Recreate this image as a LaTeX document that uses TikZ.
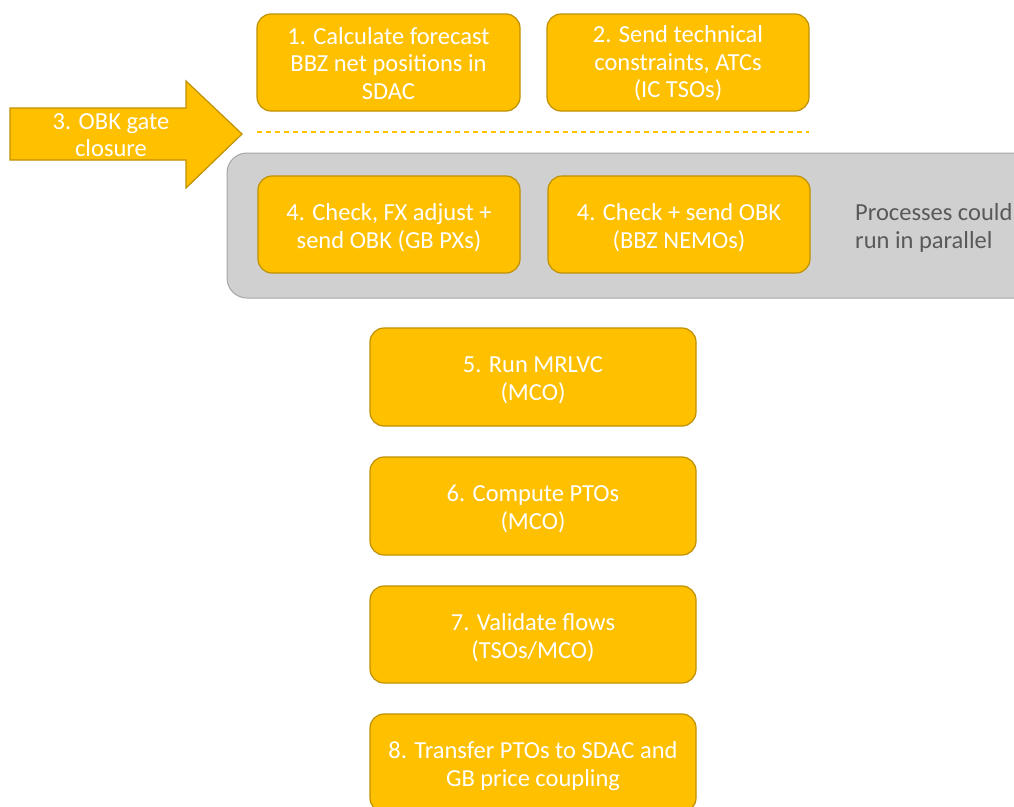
\documentclass[tikz,border=0pt]{standalone}
\usepackage{fontspec}
\setmainfont{Carlito}
\definecolor{gold}{HTML}{FFC000}
\definecolor{golddark}{HTML}{BF9000}
\definecolor{panelgrey}{HTML}{D0D0D0}
\definecolor{panelline}{HTML}{A6A6A6}
\definecolor{notegrey}{HTML}{595959}
\tikzset{
  stepbox/.style={draw=golddark, line width=1.2pt, fill=gold, rounded corners=14pt,
    inner sep=0pt},
  steptext/.style={text=white, align=center, inner sep=0pt, yshift=-3pt,
    font=\fontsize{24.5}{27.5}\selectfont},
}
\begin{document}
\begin{tikzpicture}[x=1pt,y=-1pt]
\clip (0,0) rectangle (1014,806);
\fill[white] (0,0) rectangle (1014,806);
% grey panel
\draw[fill=panelgrey, draw=panelline, line width=1pt, rounded corners=20pt] (227,153) rectangle (1034,298);
% top boxes
\node[stepbox, minimum width=263pt, minimum height=97pt,
  label={[steptext, yshift=2pt]center:{1. Calculate forecast\\BBZ net positions in\\SDAC}}] (s1) at (388.5,62.5) {};
\node[stepbox, minimum width=262pt, minimum height=97pt,
  label={[steptext, yshift=2pt]center:{2. Send technical\\constraints, ATCs\\(IC TSOs)}}] (s2) at (678,62.5) {};
% dashed line
\coordinate (dl) at (257,132);
\coordinate (dr) at (809,132);
\draw[gold, line width=1.3pt, dash pattern=on 5pt off 4pt] (dl) -- (dr);
% arrow
\draw[fill=gold, draw=golddark, line width=1.2pt, line join=miter]
  (10,108) -- (186,108) -- (186,81) -- (242,134) -- (186,188) -- (186,160) -- (10,160) -- cycle;
\node[text=white, align=center, font=\fontsize{24.5}{27.5}\selectfont, inner sep=0pt] (s3) at (111,135) {3. OBK gate\\closure};
% step 4 boxes
\node[stepbox, minimum width=262pt, minimum height=97pt,
  label={[steptext]center:{4. Check, FX adjust +\\send OBK (GB PXs)}}] (s4a) at (389,224.5) {};
\node[stepbox, minimum width=262pt, minimum height=97pt,
  label={[steptext]center:{4. Check + send OBK\\(BBZ NEMOs)}}] (s4b) at (679,224.5) {};
\node[text=notegrey, align=left, anchor=west, font=\fontsize{24.5}{27.5}\selectfont, inner sep=0pt] (note) at (855,228) {Processes could\\run in parallel};
% lower boxes
\node[stepbox, minimum width=326pt, minimum height=98pt,
  label={[steptext]center:{5. Run MRLVC\\(MCO)}}] (s5) at (533,377) {};
\node[stepbox, minimum width=326pt, minimum height=98pt,
  label={[steptext]center:{6. Compute PTOs\\(MCO)}}] (s6) at (533,506) {};
\node[stepbox, minimum width=326pt, minimum height=97pt,
  label={[steptext]center:{7. Validate flows\\(TSOs/MCO)}}] (s7) at (533,634.5) {};
\node[stepbox, minimum width=326pt, minimum height=98pt,
  label={[steptext]center:{8. Transfer PTOs to SDAC and\\GB price coupling}}] (s8) at (533,763) {};
\end{tikzpicture}
\end{document}
